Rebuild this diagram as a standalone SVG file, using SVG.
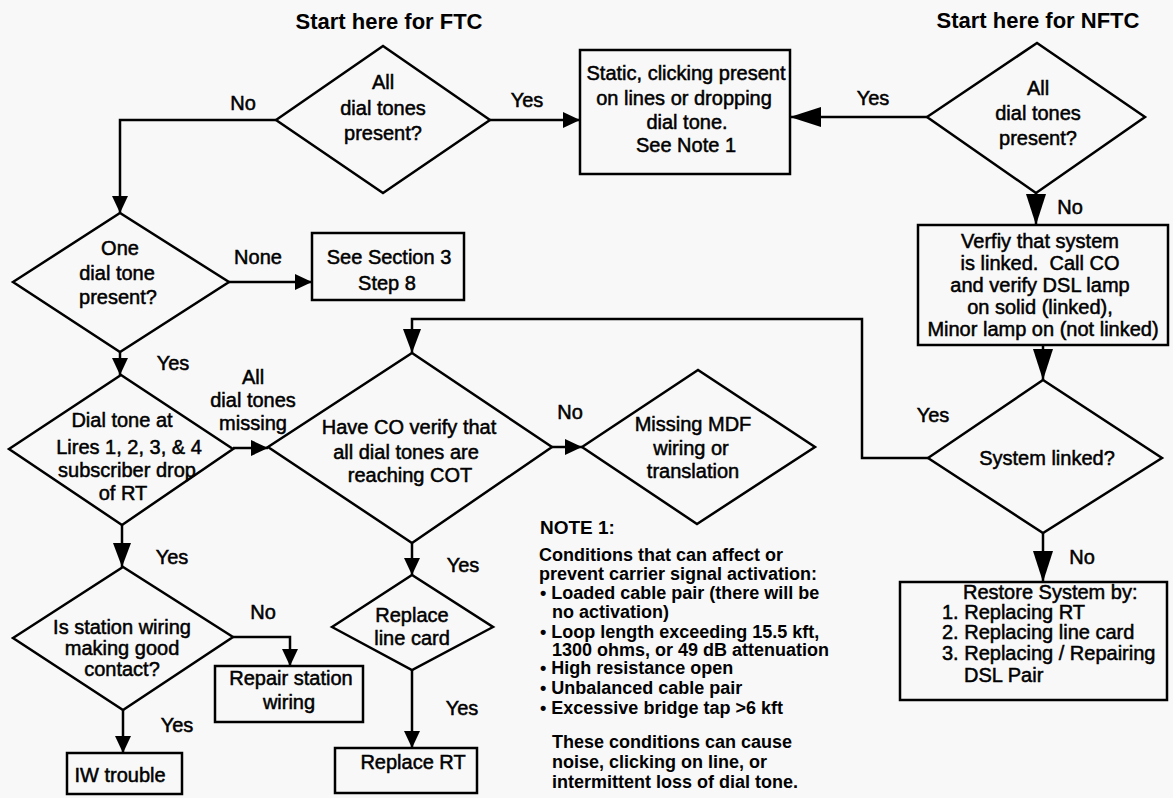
<svg xmlns="http://www.w3.org/2000/svg" width="1173" height="798" viewBox="0 0 1173 798">
<style>
text{font-family:"Liberation Sans",Arial,sans-serif;font-size:20px;fill:#000;stroke:#000;stroke-width:0.5}
.c{text-anchor:middle}
.t{font-size:22px;font-weight:bold;stroke-width:0}
.n{font-size:18px;font-weight:bold;stroke-width:0}
.nh{font-size:19px;font-weight:bold;stroke-width:0}
.s{fill:none;stroke:#000;stroke-width:2.5;stroke-linejoin:miter}
.l{fill:none;stroke:#000;stroke-width:2.5}
</style>
<defs>
<marker id="a" markerUnits="userSpaceOnUse" markerWidth="17" markerHeight="16" refX="17" refY="8" orient="auto"><path d="M0,0L17,8L0,16z" fill="#000"/></marker>
<marker id="m" markerUnits="userSpaceOnUse" markerWidth="24" markerHeight="18" refX="24" refY="9" orient="auto"><path d="M0,0L24,9L0,18z" fill="#000"/></marker>
<marker id="b" markerUnits="userSpaceOnUse" markerWidth="31" markerHeight="20" refX="31" refY="10" orient="auto"><path d="M0,0L31,10L0,20z" fill="#000"/></marker>
</defs>
<rect width="1173" height="798" fill="#f8f8f8"/>

<text class="t c" x="389" y="29">Start here for FTC</text>
<text class="t c" x="1038" y="28">Start here for NFTC</text>

<g id="connectors">
<path class="l" d="M276,120H120V213" marker-end="url(#a)"/>
<path class="l" d="M490,120H580" marker-end="url(#a)"/>
<path class="l" d="M927,117H790" marker-end="url(#b)"/>
<path class="l" d="M1036,193V225" marker-end="url(#b)"/>
<path class="l" d="M229,282H312" marker-end="url(#a)"/>
<path class="l" d="M120,352V375" marker-end="url(#a)"/>
<path class="l" d="M233,448H268" marker-end="url(#a)"/>
<path class="l" d="M552,447H582" marker-end="url(#a)"/>
<path class="l" d="M1043,345V380" marker-end="url(#b)"/>
<path class="l" d="M928,458H862V319H412V353" marker-end="url(#m)"/>
<path class="l" d="M1043,533V582" marker-end="url(#b)"/>
<path class="l" d="M122,525V567" marker-end="url(#m)"/>
<path class="l" d="M233,637H290V666" marker-end="url(#a)"/>
<path class="l" d="M123,710V753" marker-end="url(#a)"/>
<path class="l" d="M412,543V575" marker-end="url(#a)"/>
<path class="l" d="M412,670V748" marker-end="url(#a)"/>
<text class="c" x="243" y="110">No</text>
<text class="c" x="527" y="107">Yes</text>
<text class="c" x="873" y="105">Yes</text>
<text class="c" x="1070" y="214">No</text>
<text class="c" x="258" y="264">None</text>
<text class="c" x="173" y="370">Yes</text>
<text class="c" x="253" y="384">All</text>
<text class="c" x="253" y="407">dial tones</text>
<text class="c" x="253" y="430">missing</text>
<text class="c" x="570" y="419">No</text>
<text class="c" x="933" y="422">Yes</text>
<text class="c" x="1082" y="564">No</text>
<text class="c" x="172" y="564">Yes</text>
<text class="c" x="263" y="619">No</text>
<text class="c" x="177" y="732">Yes</text>
<text class="c" x="463" y="572">Yes</text>
<text class="c" x="462" y="715">Yes</text>
</g>

<g id="ftc-all">
<path class="s" d="M276,120L383,46L490,120L383,193Z"/>
<text class="c" x="383" y="89">All</text>
<text class="c" x="383" y="115">dial tones</text>
<text class="c" x="383" y="140">present?</text>
</g>

<g id="static">
<rect class="s" x="580" y="50" width="210" height="124"/>
<text class="c" x="686" y="80">Static, clicking present</text>
<text class="c" x="684" y="105">on lines or dropping</text>
<text class="c" x="687" y="129">dial tone.</text>
<text class="c" x="686" y="152">See Note 1</text>
</g>

<g id="nftc-all">
<path class="s" d="M927,117L1037,43L1145,117L1036,193Z"/>
<text class="c" x="1038" y="95">All</text>
<text class="c" x="1038" y="120">dial tones</text>
<text class="c" x="1038" y="145">present?</text>
</g>

<g id="verify">
<rect class="s" x="918" y="225" width="250" height="120"/>
<text class="c" x="1040" y="248">Verfiy that system</text>
<text class="c" x="1040" y="270">is linked.&#160; Call CO</text>
<text class="c" x="1040" y="292">and verify DSL lamp</text>
<text class="c" x="1040" y="314">on solid (linked),</text>
<text class="c" x="1043" y="336">Minor lamp on (not linked)</text>
</g>

<g id="one-dial">
<path class="s" d="M13,282L120,213L229,282L120,352Z"/>
<text class="c" x="120" y="255">One</text>
<text class="c" x="117" y="280">dial tone</text>
<text class="c" x="118" y="304">present?</text>
</g>

<g id="see-section">
<rect class="s" x="312" y="233" width="152" height="67"/>
<text class="c" x="389" y="264">See Section 3</text>
<text class="c" x="387" y="290">Step 8</text>
</g>

<g id="dial-lines">
<path class="s" d="M9,449L121,375L233,449L122,525Z"/>
<text class="c" x="122" y="427">Dial tone at</text>
<text class="c" x="129" y="454">Lires 1, 2, 3, &amp; 4</text>
<text class="c" x="127" y="477">subscriber drop</text>
<text class="c" x="123" y="500">of RT</text>
</g>

<g id="have-co">
<path class="s" d="M268,447L412,353L552,447L412,543Z"/>
<text class="c" x="409" y="434">Have CO verify that</text>
<text class="c" x="406" y="459">all dial tones are</text>
<text class="c" x="410" y="482">reaching COT</text>
</g>

<g id="missing-mdf">
<path class="s" d="M582,447L698,370L815,447L697,524Z"/>
<text class="c" x="693" y="431">Missing MDF</text>
<text class="c" x="691" y="455">wiring or</text>
<text class="c" x="693" y="478">translation</text>
</g>

<g id="system-linked">
<path class="s" d="M928,458L1043,380L1162,458L1043,533Z"/>
<text class="c" x="1047" y="465">System linked?</text>
</g>

<g id="restore">
<rect class="s" x="900" y="582" width="267" height="118"/>
<text x="963" y="599">Restore System by:</text>
<text x="942" y="619">1. Replacing RT</text>
<text x="942" y="639">2. Replacing line card</text>
<text x="942" y="660">3. Replacing / Repairing</text>
<text x="964" y="682">DSL Pair</text>
</g>

<g id="station-wiring">
<path class="s" d="M13,638L123,567L233,637L123,710Z"/>
<text class="c" x="122" y="634">Is station wiring</text>
<text class="c" x="122" y="655">making good</text>
<text class="c" x="122" y="676">contact?</text>
</g>

<g id="repair">
<rect class="s" x="215" y="666" width="148" height="56"/>
<text class="c" x="291" y="685">Repair station</text>
<text class="c" x="289" y="709">wiring</text>
</g>

<g id="iw">
<rect class="s" x="67" y="753" width="115" height="41"/>
<text class="c" x="120" y="782">IW trouble</text>
</g>

<g id="replace-card">
<path class="s" d="M332,627L412,575L493,627L412,670Z"/>
<text class="c" x="412" y="622">Replace</text>
<text class="c" x="412" y="645">line card</text>
</g>

<g id="replace-rt">
<rect class="s" x="335" y="748" width="142" height="45"/>
<text class="c" x="413" y="769">Replace RT</text>
</g>

<g id="note">
<text class="nh" x="540" y="534">NOTE 1:</text>
<text class="n" x="539" y="561">Conditions that can affect or</text>
<text class="n" x="539" y="580">prevent carrier signal activation:</text>
<text class="n" x="540" y="599">• Loaded cable pair (there will be</text>
<text class="n" x="552" y="618">no activation)</text>
<text class="n" x="540" y="638">• Loop length exceeding 15.5 kft,</text>
<text class="n" x="552" y="656">1300 ohms, or 49 dB attenuation</text>
<text class="n" x="540" y="674">• High resistance open</text>
<text class="n" x="540" y="694">• Unbalanced cable pair</text>
<text class="n" x="540" y="714">• Excessive bridge tap &gt;6 kft</text>
<text class="n" x="552" y="748">These conditions can cause</text>
<text class="n" x="552" y="768">noise, clicking on line, or</text>
<text class="n" x="552" y="788">intermittent loss of dial tone.</text>
</g>
</svg>
